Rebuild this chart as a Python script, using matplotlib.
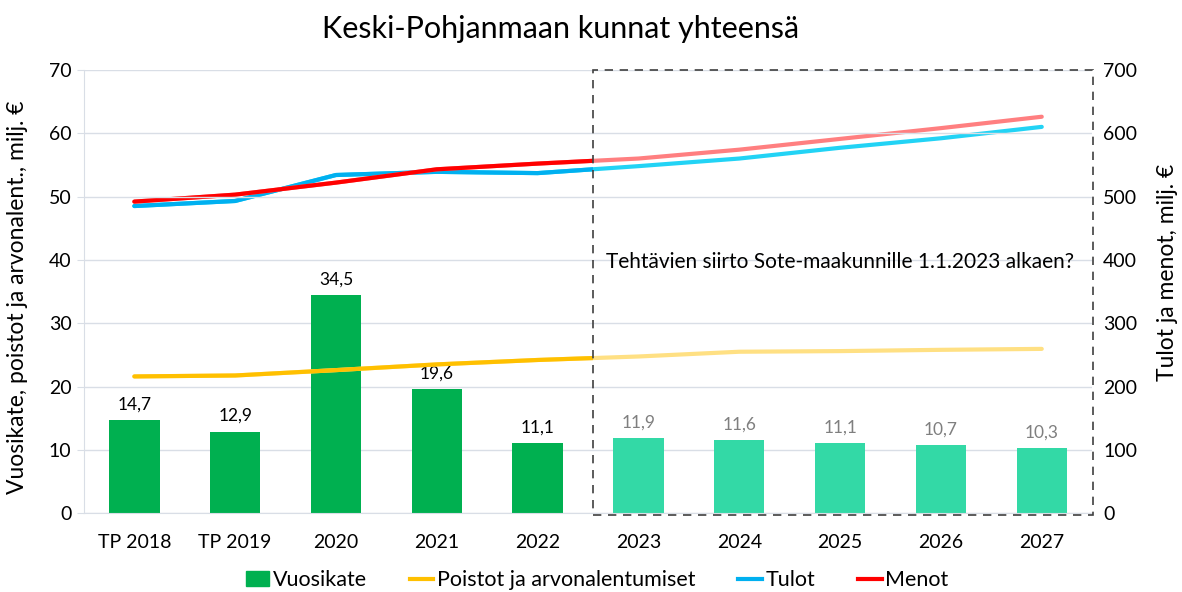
import matplotlib
matplotlib.use("Agg")
import matplotlib.pyplot as plt
from matplotlib.patches import Rectangle, Patch
from matplotlib.lines import Line2D
import numpy as np

plt.rcParams["font.family"] = ["Lato", "DejaVu Sans"]

years = ["TP 2018", "TP 2019", "2020", "2021", "2022", "2023", "2024", "2025", "2026", "2027"]
vuosikate = [14.7, 12.9, 34.5, 19.6, 11.1, 11.9, 11.6, 11.1, 10.7, 10.3]
poistot = [21.6, 21.75, 22.6, 23.5, 24.2, 24.75, 25.5, 25.6, 25.8, 25.95]
tulot = [485, 493, 534, 539, 537, 548, 560, 577, 592, 610]
menot = [492, 503, 522, 543, 552, 560, 574, 591, 608, 626]
n_hist = 5  # TP 2018 .. 2022 toteutuneet

GREEN, GREEN_F = "#00B050", "#33D9A6"
YEL, YEL_F = "#FFC000", "#FFE083"
BLUE, BLUE_F = "#00B0F0", "#22D3F5"
RED, RED_F = "#FF0000", "#FF7F80"
GRID = "#D9DEE6"

x = np.arange(len(years))
fig = plt.figure(figsize=(11.82, 5.92), dpi=100)
ax = fig.add_axes([0.071, 0.133, 0.853, 0.749])
ax2 = ax.twinx()
ax.set_zorder(ax2.get_zorder() + 1)
ax.patch.set_visible(False)

cols = [GREEN] * n_hist + [GREEN_F] * (len(years) - n_hist)
ax.bar(x, vuosikate, 0.5, color=cols, zorder=2)
for i, v in enumerate(vuosikate):
    ax.text(i, v + 1.2, f"{v:.1f}".replace(".", ","), ha="center", va="bottom",
            fontsize=12.5, color="black" if i < n_hist else "#7F7F7F")


def two_tone(a, vals, c1, c2, z):
    # forecast part faded, actuals in full colour (clipped at the box edge)
    a.plot(x, vals, color=c2, lw=3, zorder=z, solid_capstyle="round")
    ln, = a.plot(x, vals, color=c1, lw=3, zorder=z + 0.1, solid_capstyle="round")
    ln.set_clip_path(Rectangle((-1, -100), n_hist - 0.45 + 1, 2000, transform=a.transData))


two_tone(ax, poistot, YEL, YEL_F, 3)
two_tone(ax2, tulot, BLUE, BLUE_F, 3)
two_tone(ax2, menot, RED, RED_F, 3.2)

ax.set_ylim(0, 70)
ax2.set_ylim(0, 700)
ax.set_xlim(-0.5, 9.5)
ax.set_yticks(range(0, 71, 10))
ax2.set_yticks(range(0, 701, 100))
ax.set_xticks(x, years)
ax.grid(axis="y", color=GRID, lw=1, zorder=0)
ax.set_axisbelow(True)
for a in (ax, ax2):
    a.tick_params(length=0, labelsize=14, pad=8)
    for s in a.spines.values():
        s.set_visible(False)
ax.tick_params(axis="x", pad=15)
ax.tick_params(axis="y", length=5, color=GRID, pad=4)
ax.spines["left"].set_visible(True)
ax.spines["left"].set_color(GRID)
ax.spines["bottom"].set_visible(True)
ax.spines["bottom"].set_color(GRID)

ax.set_ylabel("Vuosikate, poistot ja arvonalent., milj. €", fontsize=16.5)
ax.yaxis.set_label_coords(-0.055, 0.488)
ax2.set_ylabel("Tulot ja menot, milj. €", fontsize=16.5)
ax2.yaxis.set_label_coords(1.064, 0.544)

ax.add_patch(Rectangle((4.55, -0.2), 4.96, 70.2, fill=False, ls=(0, (5, 4)), lw=1.2,
                       edgecolor="#404040", clip_on=False, zorder=5))
ax.text(7.0, 39.6, "Tehtävien siirto Sote-maakunnille 1.1.2023 alkaen?", ha="center",
        va="center", fontsize=15)

fig.suptitle("Keski-Pohjanmaan kunnat yhteensä", fontsize=22, x=0.474, y=0.975)

handles = [Patch(color=GREEN), Line2D([], [], color=YEL, lw=3),
           Line2D([], [], color=BLUE, lw=3), Line2D([], [], color=RED, lw=3)]
labels = ["Vuosikate", "Poistot ja arvonalentumiset", "Tulot", "Menot"]
fig.legend(handles, labels, loc="lower center", bbox_to_anchor=(0.505, -0.03), ncol=4,
           frameon=False, fontsize=15.5, handlelength=1.1, handletextpad=0.15,
           columnspacing=2.0)

fig.savefig("out.png", dpi=100)
